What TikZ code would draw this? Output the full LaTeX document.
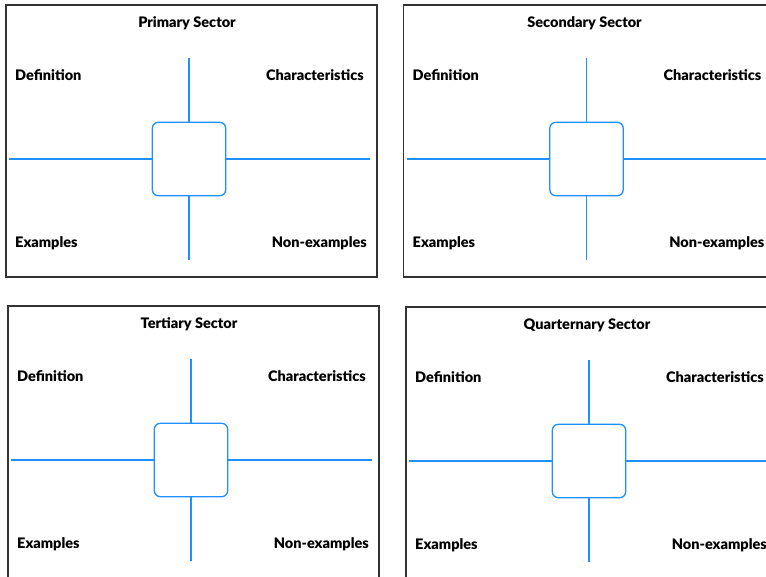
\documentclass[tikz,border=0pt]{standalone}
\usepackage{fontspec}
\setmainfont{Lato}[BoldFont={Lato Black}]
\begin{document}
\begin{tikzpicture}[x=1pt,y=-1pt,
  frame/.style={draw=black!80, line width=1.4pt},
  arm/.style={draw=armblue, line width=1.3pt},
  centrebox/.style={draw=armblue, line width=1.3pt, rounded corners=6pt,
    minimum width=73.4pt, minimum height=73.4pt, inner sep=0pt, fill=white},
  heading/.style={font=\bfseries\fontsize{14.5}{16}\selectfont, inner sep=0pt, anchor=base},
  lab/.style={font=\bfseries\fontsize{14.5}{16}\selectfont, inner sep=0pt}]
\definecolor{armblue}{RGB}{30,144,255}
\useasboundingbox (0,0) rectangle (766,576);
\clip (0,0) rectangle (766,576);
\fill[white] (0,0) rectangle (766,576);

% One four-square model: #1 name prefix, #2/#3 offset, #4 heading
\newcommand{\frayerpanel}[4]{%
  \begin{scope}[shift={(#2,#3)}]
    \draw[frame] (6,5) rectangle (377,277);
    \node[heading] (#1title) at (187,27.3) {#4};
    \node[centrebox] (#1box) at (189,159) {};
    \coordinate (#1n) at (189,57.7);
    \coordinate (#1s) at (189,260);
    \coordinate (#1w) at (9,159);
    \coordinate (#1e) at (369.5,159);
    \draw[arm] (#1n) -- (#1box.north);
    \draw[arm] (#1box.south) -- (#1s);
    \draw[arm] (#1w) -- (#1box.west);
    \draw[arm] (#1box.east) -- (#1e);
    \node[lab, anchor=base west] (#1def) at (15,80.7) {Definition};
    \node[lab, anchor=base east] (#1char) at (364,80.7) {Characteristics};
    \node[lab, anchor=base west] (#1ex) at (15,247.3) {Examples};
    \node[lab, anchor=base east] (#1non) at (367,247.3) {Non-examples};
  \end{scope}}

\frayerpanel{p}{0}{0}{Primary Sector}
\frayerpanel{s}{397.5}{0}{Secondary Sector}
\frayerpanel{t}{2}{301}{Tertiary Sector}
\frayerpanel{q}{400}{302}{Quarternary Sector}
\end{tikzpicture}
\end{document}
